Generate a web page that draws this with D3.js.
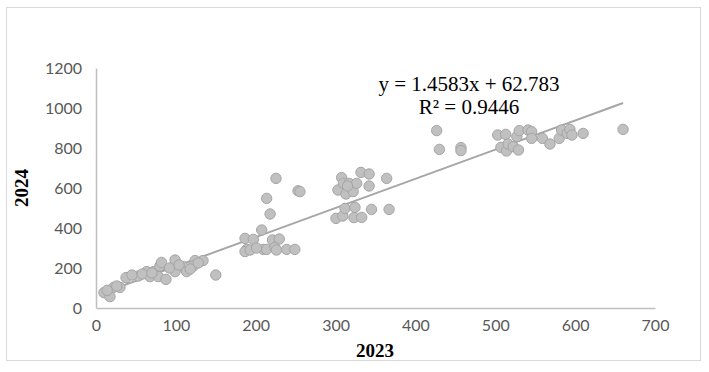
<!DOCTYPE html>
<html><head><meta charset="utf-8">
<script src="https://cdn.jsdelivr.net/npm/d3@7"></script>
<style>body{margin:0;background:#fff}svg{display:block}</style>
</head><body>
<svg id="c" width="709" height="372"></svg>
<script>
const xValues2023 = [10,17.5,22,30,37.6,53,63.5,67.6,72,80,82,78,87.6,99,99,109,113.5,124,122,134,150,14,26,45,58,92,104,118,128,70,
  186.6,188.7,186.6,193,197,207.5,209.5,213.7,218,213.7,221,225.4,229.5,224,226,238.8,249,253,255.4,201,
  300.5,303,307.6,309,309.7,311.8,313,317,322,323,324.3,326.4,331.8,332.7,342,342,345,364,367,315,
  426.6,430,457,457,503,507,513,514,516,522.5,527,529,530,541,545.5,545.5,559,568.5,580,583,590,593.5,596,610,660];
const yValues2024 = [77,57,103,103,152,160,182,157,182,210,228,157,143,240,182,207,182,237,210,237,165,88,110,165,170,200,215,195,225,175,
  348,293,282,290,343,390,293,293,470,548,340,648,345,303,290,293,293,586,582,300,
  448,590,652,460,623,498,570,623,582,452,503,623,678,453,670,610,493,648,493,610,
  887,793,802,787,865,803,868,785,820,807,857,790,887,890,882,848,848,820,848,890,873,893,865,873,893];
const xTicks = [0,100,200,300,400,500,600,700];
const yTicks = [0,200,400,600,800,1000,1200];
const slope = 1.4583, intercept = 62.783, r2 = 0.9446;
const eqLabel = "y = 1.4583x + 62.783";
const r2Label = "R² = 0.9446";
const xTitle = "2023", yTitle = "2024";

const svg = d3.select("#c");
svg.append("rect").attr("x",6.5).attr("y",7.5).attr("width",694).attr("height",353)
  .attr("fill","#fff").attr("stroke","#d9d9d9").attr("stroke-width",1);

const x = d3.scaleLinear().domain([0,700]).range([96,655]);
const y = d3.scaleLinear().domain([0,1200]).range([308,68]);

const tickFont = "Lato, 'Open Sans', sans-serif";
const xa = svg.append("g").attr("transform","translate(0,308)")
  .call(d3.axisBottom(x).tickValues(xTicks).tickFormat(d3.format("d")).tickSize(0).tickPadding(12));
const ya = svg.append("g").attr("transform","translate(96,0)")
  .call(d3.axisLeft(y).tickValues(yTicks).tickFormat(d3.format("d")).tickSize(0).tickPadding(14));
[xa,ya].forEach(a=>{
  a.select(".domain").attr("stroke","#bfbfbf").attr("stroke-width",1.5);
  a.selectAll("text").attr("fill","#595959").style("font-family",tickFont).style("font-size","16px");
});

const pts = xValues2023.map((v,i)=>({x:v,y:yValues2024[i]}));
const [xmin,xmax] = d3.extent(xValues2023);
svg.append("line")
  .attr("x1",x(xmin)).attr("y1",y(slope*xmin+intercept))
  .attr("x2",x(xmax)).attr("y2",y(slope*xmax+intercept))
  .attr("stroke","#a6a6a6").attr("stroke-width",2);

svg.append("g").selectAll("circle").data(pts).join("circle")
  .attr("cx",d=>x(d.x)).attr("cy",d=>y(d.y)).attr("r",5.2)
  .attr("fill","#c0c0c0").attr("stroke","#a5a5a5").attr("stroke-width",1);

const serif = "'Liberation Serif','Times New Roman',serif";
svg.append("text").attr("x",469).attr("y",91).attr("text-anchor","middle")
  .style("font-family",serif).style("font-size","21px").attr("fill","#000").text(eqLabel);
svg.append("text").attr("x",469).attr("y",114).attr("text-anchor","middle")
  .style("font-family",serif).style("font-size","21px").attr("fill","#000").text(r2Label);

svg.append("text").attr("x",375).attr("y",357).attr("text-anchor","middle")
  .style("font-family",serif).style("font-size","19px").style("font-weight","bold").text(xTitle);
svg.append("text").attr("transform","translate(28,188) rotate(-90)").attr("text-anchor","middle")
  .style("font-family",serif).style("font-size","19px").style("font-weight","bold").text(yTitle);
</script>
</body></html>
